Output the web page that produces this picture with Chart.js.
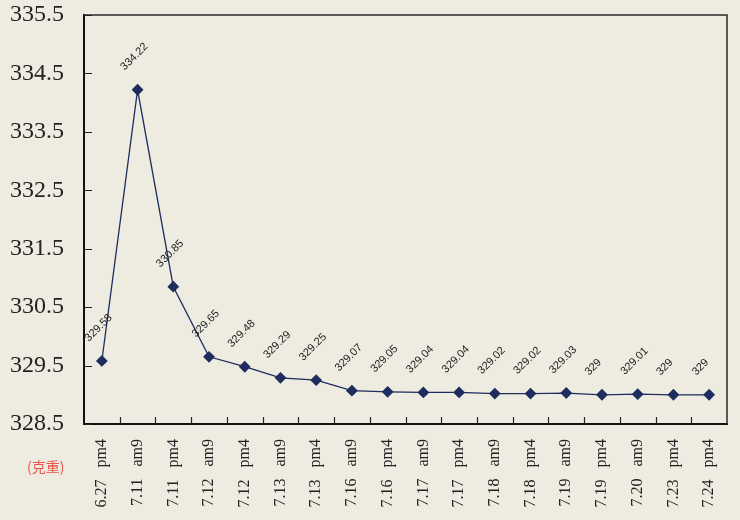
<!DOCTYPE html>
<html>
<head>
<meta charset="utf-8">
<script src="https://cdn.jsdelivr.net/npm/chart.js@4/dist/chart.umd.min.js"></script>
<style>
  html, body { margin: 0; padding: 0; background: #EEEBE0; }
  #wrap { position: relative; width: 740px; height: 520px; }
  #unit { position: absolute; left: 27px; top: 456px; font: 14px "Noto Sans CJK TC", sans-serif; color: #E8554F; }
</style>
</head>
<body>
<div id="wrap">
  <canvas id="c" width="740" height="520"></canvas>
  <div id="unit">(克重)</div>
</div>
<script>
// Quotation dates and sessions
const dates = ['6.27','7.11','7.11','7.12','7.12','7.13','7.13','7.16','7.16','7.17','7.17','7.18','7.18','7.19','7.19','7.20','7.23','7.24'];
const sessions = ['pm4','am9','pm4','am9','pm4','am9','pm4','am9','pm4','am9','pm4','am9','pm4','am9','pm4','am9','pm4','pm4'];
// Price per session
const prices = [329.58, 334.22, 330.85, 329.65, 329.48, 329.29, 329.25, 329.07, 329.05, 329.04, 329.04, 329.02, 329.02, 329.03, 329, 329.01, 329, 329];
// Value axis range
const yMin = 328.5, yMax = 335.5, yStep = 1;

const labels = dates.map((d, i) => d + '   ' + sessions[i]);

const framePlugin = {
  id: 'frame',
  afterDatasetsDraw(chart) {
    const { ctx, chartArea: a, scales: { x, y } } = chart;
    ctx.save();
    // top and right border
    ctx.strokeStyle = '#2a2a2a';
    ctx.lineWidth = 1.5;
    ctx.beginPath();
    ctx.moveTo(a.left, a.top);
    ctx.lineTo(a.right, a.top);
    ctx.lineTo(a.right, a.bottom);
    ctx.stroke();
    // inward tick marks
    ctx.strokeStyle = '#222';
    ctx.lineWidth = 1.2;
    ctx.beginPath();
    y.ticks.forEach(t => {
      const py = Math.round(y.getPixelForValue(t.value)) + 0.5;
      ctx.moveTo(a.left, py);
      ctx.lineTo(a.left + 8, py);
    });
    for (let i = 1; i < labels.length; i++) {
      const px = Math.round((x.getPixelForValue(i - 1) + x.getPixelForValue(i)) / 2) + 0.5;
      ctx.moveTo(px, a.bottom);
      ctx.lineTo(px, a.bottom - 7);
    }
    ctx.stroke();
    // value labels above each point
    const meta = chart.getDatasetMeta(0);
    ctx.font = '11px "Liberation Sans", Arial, sans-serif';
    ctx.fillStyle = '#222';
    ctx.textAlign = 'left';
    ctx.textBaseline = 'alphabetic';
    meta.data.forEach((pt, i) => {
      ctx.save();
      ctx.translate(pt.x - 13, pt.y - 19);
      ctx.rotate(-Math.PI / 4);
      ctx.fillText(String(prices[i]), 0, 0);
      ctx.restore();
    });
    ctx.restore();
  }
};

new Chart(document.getElementById('c'), {
  type: 'line',
  data: {
    labels: labels,
    datasets: [{
      data: prices,
      borderColor: '#1E2C5E',
      backgroundColor: '#1E2C5E',
      borderWidth: 1.3,
      pointStyle: 'rectRot',
      pointRadius: 5,
      pointHoverRadius: 5,
      tension: 0,
      fill: false
    }]
  },
  options: {
    responsive: false,
    animation: false,
    devicePixelRatio: 1,
    layout: { padding: { top: 15, right: 13, left: 0, bottom: 0 } },
    plugins: { legend: { display: false }, tooltip: { enabled: false } },
    scales: {
      x: {
        offset: true,
        grid: { display: false, drawTicks: false },
        border: { display: true, color: '#111', width: 2 },
        ticks: {
          autoSkip: false,
          minRotation: 90,
          maxRotation: 90,
          padding: 15,
          color: '#222',
          font: { family: '"Liberation Serif", "Times New Roman", serif', size: 16 }
        },
        afterFit(scale) { scale.height = 96; scale.paddingLeft = 0; scale.paddingRight = 0; }
      },
      y: {
        min: yMin,
        max: yMax,
        grid: { display: false, drawTicks: false },
        border: { display: true, color: '#111', width: 2 },
        ticks: {
          stepSize: yStep,
          padding: 20,
          color: '#222',
          font: { family: '"Liberation Serif", "Times New Roman", serif', size: 24 },
          callback: v => Number(v).toFixed(1)
        },
        afterFit(scale) { scale.width = 84; scale.paddingTop = 0; scale.paddingBottom = 0; }
      }
    }
  },
  plugins: [framePlugin]
});
</script>
</body>
</html>
